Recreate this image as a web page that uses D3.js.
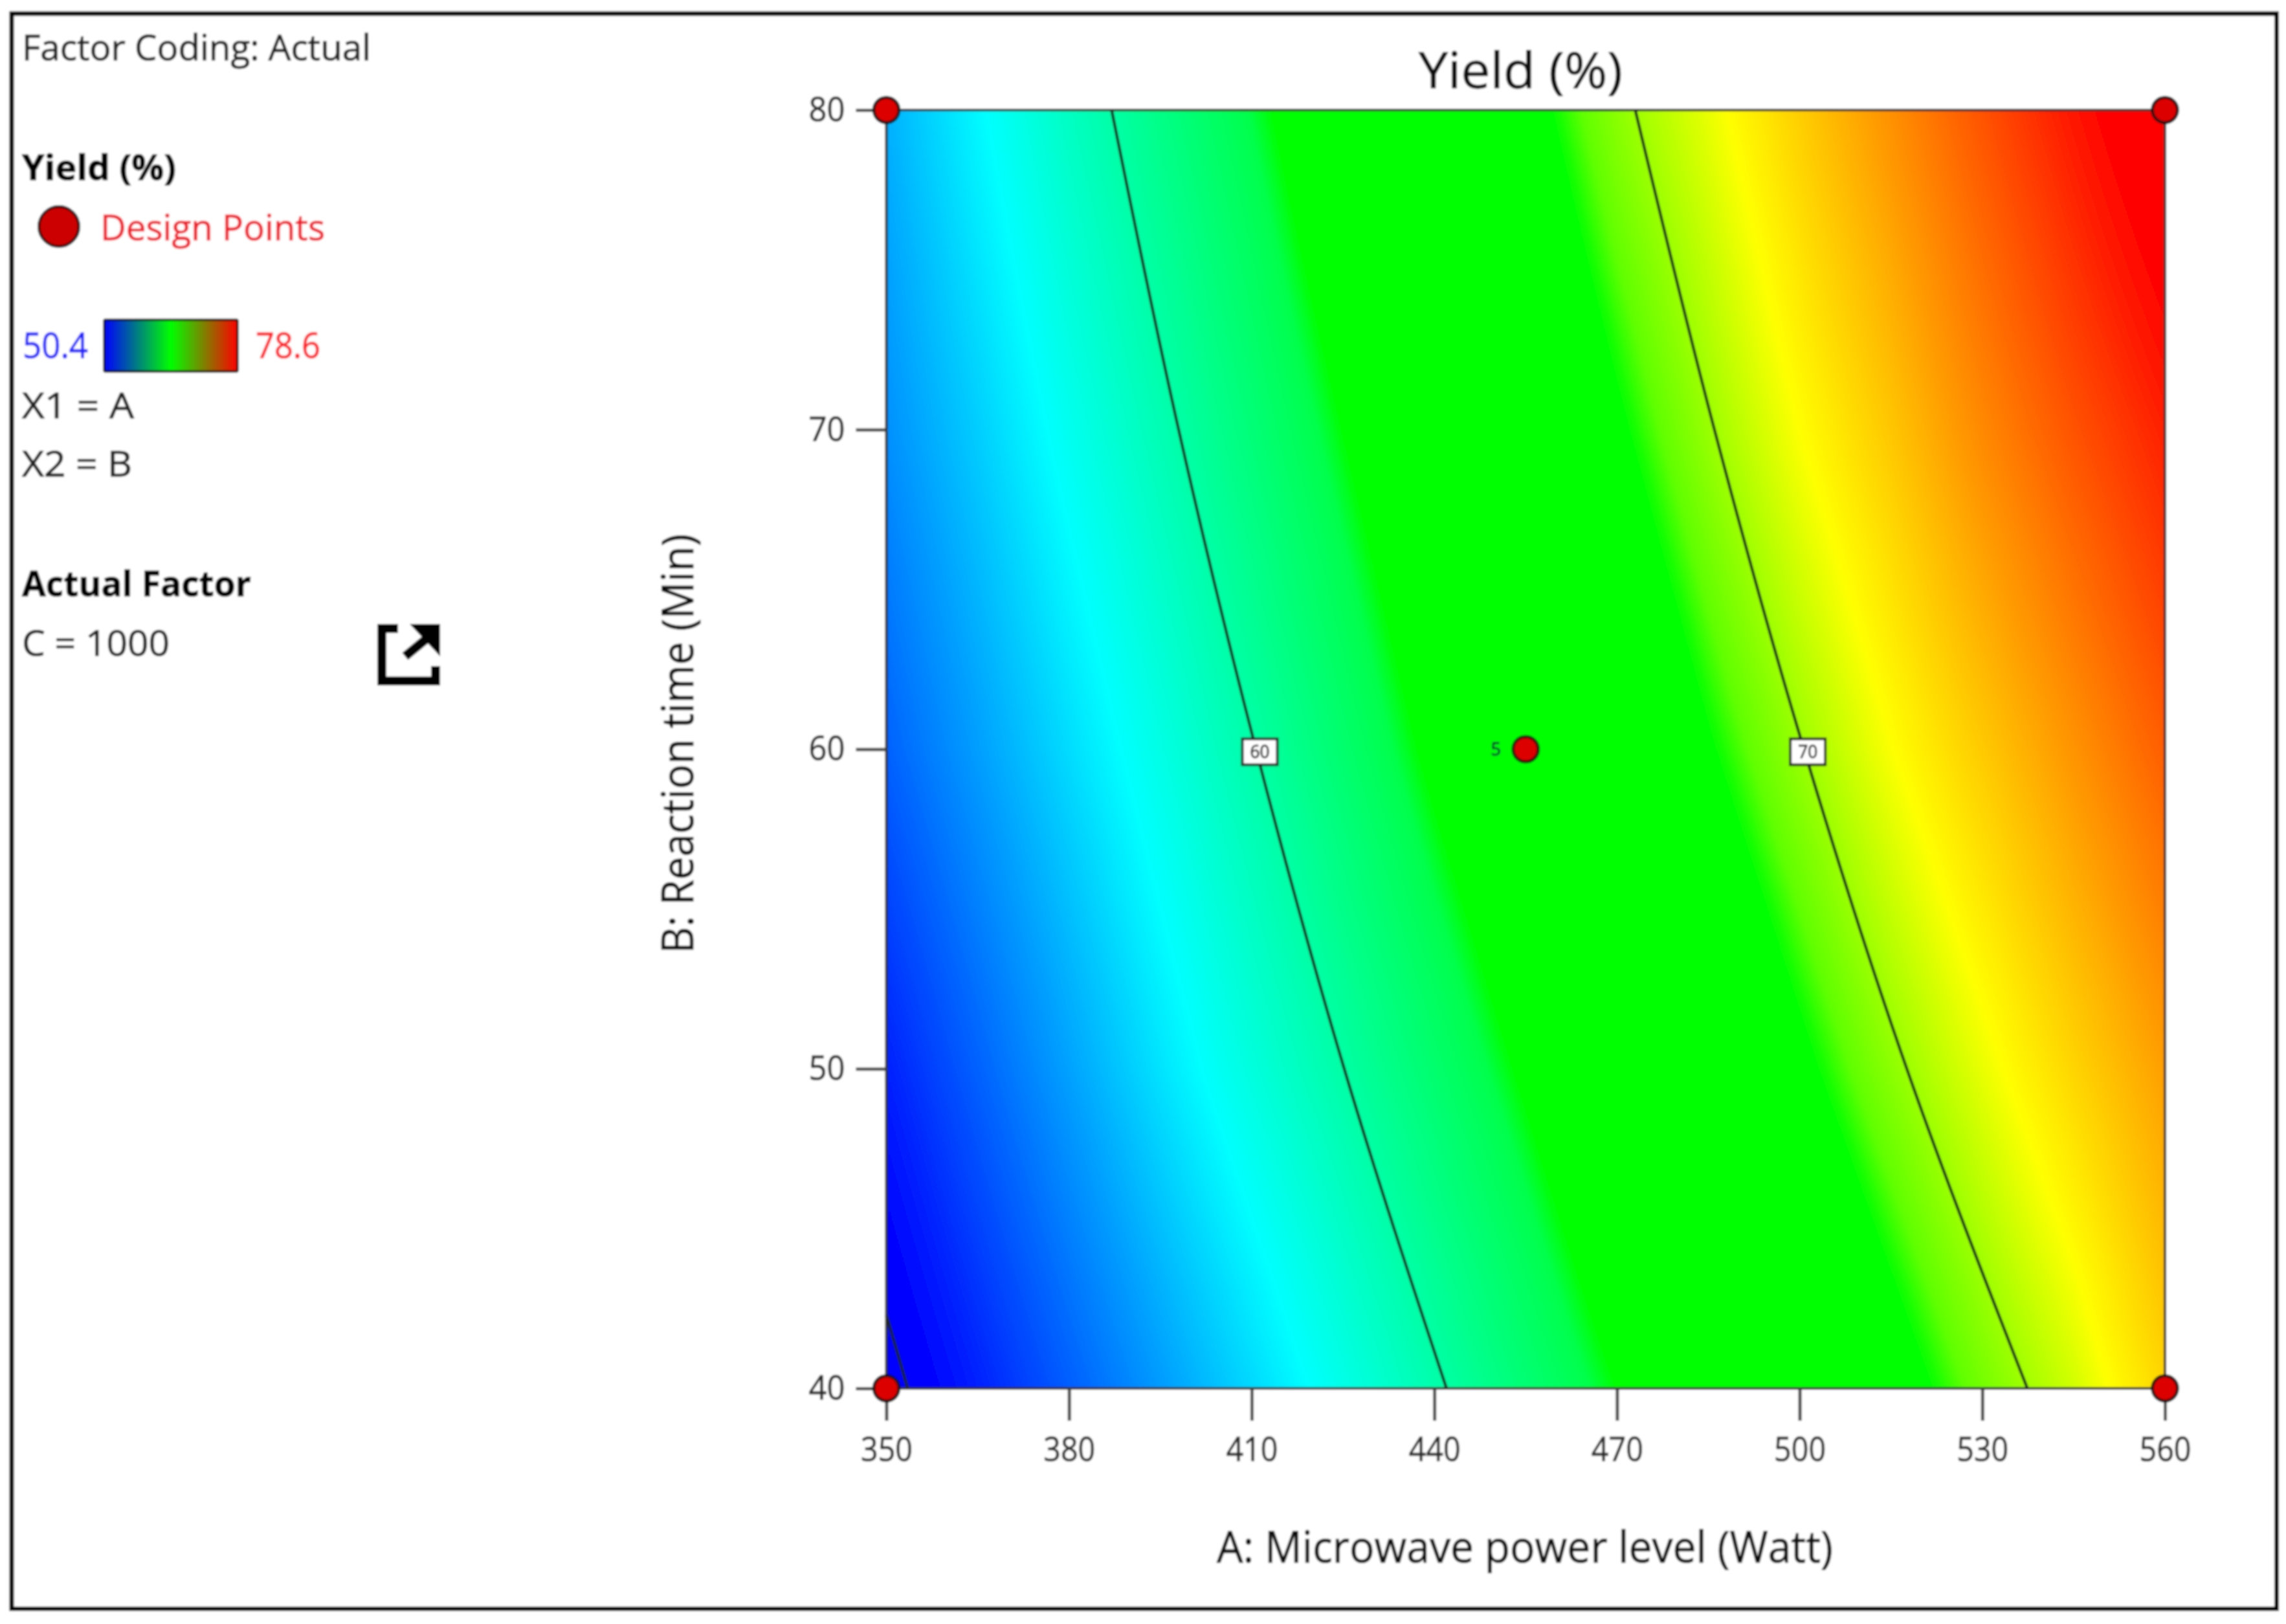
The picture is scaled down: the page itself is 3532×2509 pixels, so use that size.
<!DOCTYPE html>
<html lang="en">
<head>
<meta charset="UTF-8">
<title>Yield contour</title>
<script src="https://d3js.org/d3.v7.min.js"></script>
<style>
  html, body { margin: 0; padding: 0; background: #fff; }
  svg { display: block; }
  text { font-family: "Open Sans", "Noto Sans", sans-serif; }
</style>
</head>
<body>
<div id="chartArea"></div>
<script>
// values
const powerTicks = [350, 380, 410, 440, 470, 500, 530, 560];
const timeTicks = [40, 50, 60, 70, 80];

// yield grid: one row per reaction time, one value per powerColumns entry
const powerColumns = [350, 365, 380, 395, 410, 425, 440, 455, 470, 485, 500, 515, 530, 545, 560];
const timeRows = [40, 50, 60, 70, 80];
const yield40 = [49.6, 51.3, 53.0, 54.7, 56.4, 58.1, 59.8, 61.4, 63.0, 64.6, 66.1, 67.7, 69.3, 70.8, 72.7];
const yield50 = [51.3, 53.1, 54.9, 56.7, 58.4, 60.0, 61.6, 63.2, 64.9, 66.5, 68.1, 69.7, 71.2, 72.7, 74.2];
const yield60 = [53.1, 54.8, 56.5, 58.2, 59.9, 61.6, 63.3, 64.9, 66.6, 68.3, 69.9, 71.5, 73.0, 74.5, 76.0];
const yield70 = [54.4, 56.1, 57.9, 59.6, 61.3, 63.0, 64.7, 66.5, 68.2, 69.9, 71.55, 73.1, 74.8, 76.3, 77.7];
const yield80 = [55.3, 57.3, 59.2, 60.9, 62.6, 64.4, 66.2, 67.9, 69.7, 71.2, 72.9, 74.6, 76.3, 78.0, 79.7];
const yieldGrid = [yield40, yield50, yield60, yield70, yield80];

// colour ramp of the response surface
const rampValues = [50.4, 57.45, 62.5, 63.0, 68.4, 69.0, 71.55, 78.6];
const rampColors = ["#0000ff", "#00ffff", "#00ff4d", "#00ff00", "#00ff00", "#60ff00", "#ffff00", "#ff0000"];

// contour lines: power level where the yield crosses the level
const contour60Time = [40, 50, 60, 70, 80];
const contour60Power = [442, 425.2, 410.7, 398, 387];
const contour70Time = [40, 50, 60, 70, 80];
const contour70Power = [537.4, 517.6, 500.7, 486, 473];
const contour50Time = [40, 42.3];
const contour50Power = [353.5, 350];
const contourLabels = ["60", "70"];

// design points
const designPower = [350, 560, 350, 560, 455];
const designTime = [80, 80, 40, 40, 60];
const designCount = ["", "", "", "", "5"];

const W = 3532, H = 2509;
const plot = { left: 1369.5, right: 3345, top: 170, bottom: 2145 };

const svg = d3.select("#chartArea").append("svg")
    .attr("width", W)
    .attr("height", H)
    .attr("viewBox", [0, 0, W, H]);

// the source image is a soft upscale, so everything gets a slight blur
svg.append("defs").append("filter")
    .attr("id", "soft")
    .attr("filterUnits", "userSpaceOnUse")
    .attr("x", 0).attr("y", 0).attr("width", W).attr("height", H)
    .append("feGaussianBlur").attr("stdDeviation", 1.5);

const root = svg.append("g").attr("filter", "url(#soft)");
root.append("rect").attr("width", W).attr("height", H).attr("fill", "#fff");

const x = d3.scaleLinear().domain([350, 560]).range([plot.left, plot.right]);
const y = d3.scaleLinear().domain([40, 80]).range([plot.bottom, plot.top]);
const color = d3.scaleLinear().domain(rampValues).range(rampColors).clamp(true);

// colour lookup, d3 colour parsing per pixel is too slow
const lutSize = 2048;
const lutScale = d3.scaleLinear().domain([0, lutSize - 1]).range([50.4, 78.6]);
const lut = d3.range(lutSize).map(i => d3.rgb(color(lutScale(i))));

function yieldAt(power, time) {
    const c = Math.min(d3.bisectRight(powerColumns, power) - 1, powerColumns.length - 2);
    const r = Math.min(d3.bisectRight(timeRows, time) - 1, timeRows.length - 2);
    const tx = (power - powerColumns[c]) / (powerColumns[c + 1] - powerColumns[c]);
    const ty = (time - timeRows[r]) / (timeRows[r + 1] - timeRows[r]);
    const low = d3.interpolateNumber(yieldGrid[r][c], yieldGrid[r][c + 1])(tx);
    const high = d3.interpolateNumber(yieldGrid[r + 1][c], yieldGrid[r + 1][c + 1])(tx);
    return low + (high - low) * ty;
}

// surface goes to a canvas, then into the svg as an image
function surfaceImage() {
    const size = 988;
    const canvas = document.createElement("canvas");
    canvas.width = size;
    canvas.height = size;
    const ctx = canvas.getContext("2d");
    const img = ctx.createImageData(size, size);
    const px = d3.scaleLinear().domain([0, size - 1]).range(x.domain());
    const py = d3.scaleLinear().domain([0, size - 1]).range([80, 40]);
    const toLut = lutScale.copy().domain(lutScale.range()).range(lutScale.domain()).clamp(true);
    let k = 0;
    for (let j = 0; j < size; j++) {
        const t = py(j);
        for (let i = 0; i < size; i++) {
            const c = lut[Math.round(toLut(yieldAt(px(i), t)))];
            img.data[k++] = c.r;
            img.data[k++] = c.g;
            img.data[k++] = c.b;
            img.data[k++] = 255;
        }
    }
    ctx.putImageData(img, 0, 0);
    return canvas.toDataURL("image/png");
}

root.append("image")
    .attr("x", plot.left)
    .attr("y", plot.top)
    .attr("width", plot.right - plot.left)
    .attr("height", plot.bottom - plot.top)
    .attr("preserveAspectRatio", "none")
    .attr("href", surfaceImage());

// contours
const contourLine = d3.line()
    .x(d => x(d[0]))
    .y(d => y(d[1]))
    .curve(d3.curveMonotoneY);

const contours = [
    d3.zip(contour50Power, contour50Time),
    d3.zip(contour60Power, contour60Time),
    d3.zip(contour70Power, contour70Time)
];

root.append("g").selectAll("path")
    .data(contours)
    .join("path")
    .attr("d", contourLine)
    .attr("fill", "none")
    .attr("stroke", "#14231a")
    .attr("stroke-width", 4.5);

// contour labels sit on the line at B = 60, a little to its right
const labelG = root.append("g").selectAll("g")
    .data(contourLabels)
    .join("g")
    .attr("transform", (d, i) => `translate(${x(i === 0 ? contour60Power[2] : contour70Power[2]) + 6},${y(60) + 4})`);

labelG.append("rect")
    .attr("x", -27).attr("y", -20)
    .attr("width", 54).attr("height", 40)
    .attr("fill", "#fff")
    .attr("stroke", "#222")
    .attr("stroke-width", 4);

labelG.append("text")
    .attr("text-anchor", "middle")
    .attr("dy", "0.36em")
    .attr("font-size", 27)
    .attr("fill", "#222")
    .attr("textLength", 30)
    .attr("lengthAdjust", "spacingAndGlyphs")
    .text(d => d);

// plot border
root.append("rect")
    .attr("x", plot.left)
    .attr("y", plot.top)
    .attr("width", plot.right - plot.left)
    .attr("height", plot.bottom - plot.top)
    .attr("fill", "none")
    .attr("stroke", "#2b2b2b")
    .attr("stroke-width", 4);

// axes
const xAxis = root.append("g")
    .attr("transform", `translate(0,${plot.bottom})`)
    .call(d3.axisBottom(x).tickValues(powerTicks).tickSize(50).tickPadding(26).tickFormat(d3.format("d")));

const yAxis = root.append("g")
    .attr("transform", `translate(${plot.left},0)`)
    .call(d3.axisLeft(y).tickValues(timeTicks).tickSize(47).tickPadding(17).tickFormat(d3.format("d")));

[xAxis, yAxis].forEach(a => {
    a.select(".domain").remove();
    a.selectAll("line").attr("stroke", "#444").attr("stroke-width", 5);
    a.selectAll("text")
        .attr("font-size", 51)
        .attr("font-family", '"Open Sans", sans-serif')
        .attr("fill", "#2a2a2a")
        .attr("lengthAdjust", "spacingAndGlyphs");
});
xAxis.selectAll("text").attr("textLength", 80);
yAxis.selectAll("text").attr("textLength", 56);

// design points
const points = d3.zip(designPower, designTime, designCount);

root.append("g").selectAll("circle")
    .data(points)
    .join("circle")
    .attr("cx", d => x(d[0]))
    .attr("cy", d => y(d[1]))
    .attr("r", 19.5)
    .attr("fill", "#dd0000")
    .attr("stroke", "#111")
    .attr("stroke-width", 4.5);

root.append("g").selectAll("text")
    .data(points.filter(d => d[2]))
    .join("text")
    .attr("x", d => x(d[0]) - 46)
    .attr("y", d => y(d[1]))
    .attr("dy", "0.36em")
    .attr("text-anchor", "middle")
    .attr("font-size", 27)
    .attr("fill", "#123")
    .text(d => d[2]);

// text with a known start, baseline and width
function label(str, tx, ty, width, size, fill, weight) {
    return root.append("text")
        .attr("x", tx)
        .attr("y", ty)
        .attr("font-size", size)
        .attr("font-weight", weight || 400)
        .attr("fill", fill)
        .attr("textLength", width)
        .attr("lengthAdjust", "spacingAndGlyphs")
        .text(str);
}

label("Yield (%)", 2192, 136, 315, 76, "#111");
label("A: Microwave power level (Watt)", 1880, 2414, 952, 68, "#111");

root.append("g")
    .attr("transform", "translate(1071,1473) rotate(-90)")
    .append("text")
    .attr("font-size", 68)
    .attr("fill", "#111")
    .attr("textLength", 648)
    .attr("lengthAdjust", "spacingAndGlyphs")
    .text("B: Reaction time (Min)");

// side panel
label("Factor Coding: Actual", 34, 93, 539, 54, "#222");
label("Yield (%)", 34, 278, 238, 54, "#000", 700);
label("Design Points", 155, 371, 347, 54, "#f01c2a");
label("50.4", 35, 553, 101, 54, "#2222ff");
label("78.6", 395, 553, 100, 54, "#ff1c28");
label("X1 = A", 34, 646, 173, 54, "#222");
label("X2 = B", 34, 736, 170, 54, "#222");
label("Actual Factor", 34, 921, 354, 54, "#000", 700);
label("C = 1000", 34, 1013, 228, 54, "#222");

root.append("circle")
    .attr("cx", 91).attr("cy", 350).attr("r", 31)
    .attr("fill", "#cc0000")
    .attr("stroke", "#111")
    .attr("stroke-width", 4);

// legend colour bar
const barGradient = svg.select("defs").append("linearGradient").attr("id", "bar");
barGradient.selectAll("stop")
    .data(["#0000ff", "#00ff00", "#ff0000"])
    .join("stop")
    .attr("offset", (d, i) => i / 2)
    .attr("stop-color", d => d);

root.append("rect")
    .attr("x", 161).attr("y", 494)
    .attr("width", 206).attr("height", 80)
    .attr("rx", 2)
    .attr("fill", "url(#bar)")
    .attr("stroke", "#111")
    .attr("stroke-width", 3.5);

// export icon
root.append("path")
    .attr("d", "M615 971H590V1052H673V1029")
    .attr("fill", "none")
    .attr("stroke", "#000")
    .attr("stroke-width", 14);
root.append("path")
    .attr("d", "M633 964H680V1014Z")
    .attr("fill", "#000");
root.append("path")
    .attr("d", "M626 1014L660 986")
    .attr("fill", "none")
    .attr("stroke", "#000")
    .attr("stroke-width", 14);

// outer frame
root.append("rect")
    .attr("x", 18)
    .attr("y", 21)
    .attr("width", 3517.5 - 18)
    .attr("height", 2485.5 - 21)
    .attr("fill", "none")
    .attr("stroke", "#000")
    .attr("stroke-width", 7);

// open sans is lighter than the original font, thicken the strokes a bit
root.selectAll("text").each(function () {
    const t = d3.select(this);
    t.attr("stroke", t.attr("fill")).attr("stroke-width", 0.9);
});
</script>
</body>
</html>
